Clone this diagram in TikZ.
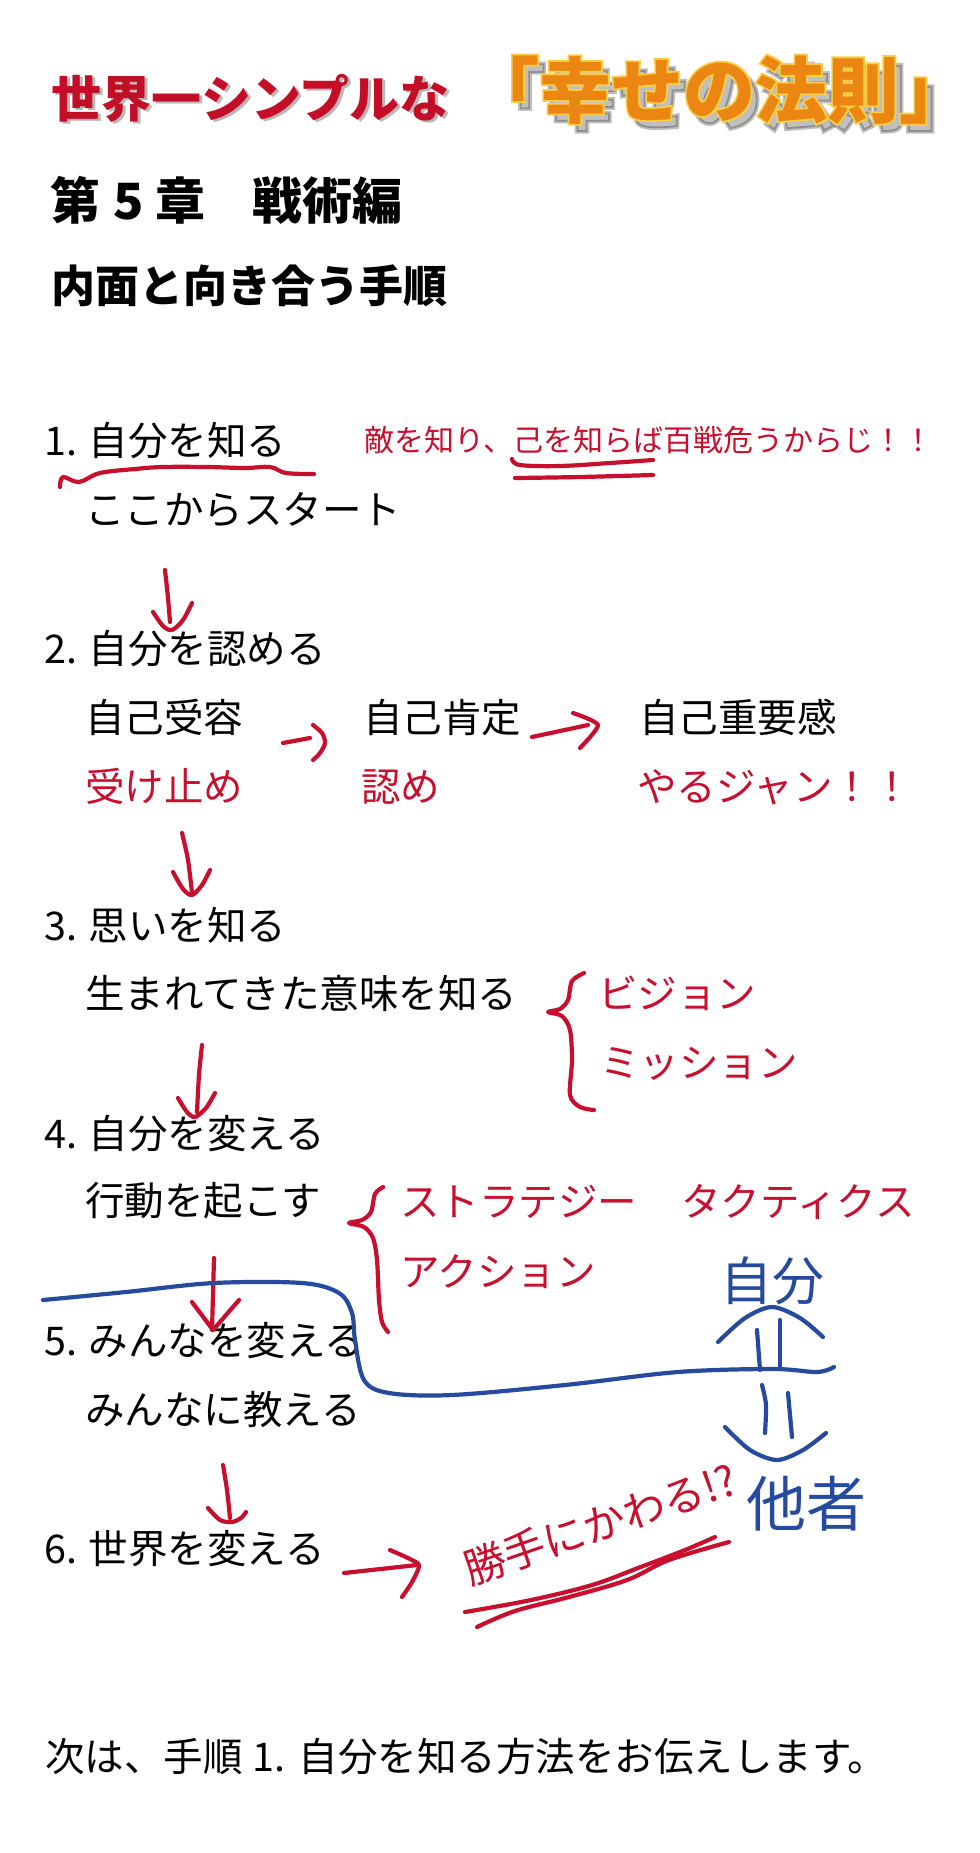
\documentclass[tikz,border=0pt]{standalone}
\usepackage{fontspec}
\setmainfont{Noto Sans CJK JP}
\newfontfamily\jp{Noto Sans CJK JP}
\newfontfamily\jpfat{Noto Sans CJK JP}[FakeBold=5, BoldFeatures={FakeBold=5}]
\definecolor{hred}{RGB}{200,16,46}
\definecolor{hblue}{RGB}{38,74,158}
\definecolor{tred}{RGB}{196,14,40}
\definecolor{torange}{RGB}{236,134,18}
\definecolor{toutline}{RGB}{250,205,70}
\tikzset{
  txt/.style={inner sep=0pt, anchor=base west, font=\jp\fontsize{39.5}{40}\selectfont},
  rtxt/.style={txt, text=hred},
  qtxt/.style={inner sep=0pt, anchor=base west, text=hred, font=\jp\fontsize{30}{30}\selectfont},
  pen/.style={line width=4.2pt, line cap=round, line join=round},
  rpen/.style={pen, draw=hred},
  bpen/.style={pen, draw=hblue},
  ttlred/.style={inner sep=0pt, anchor=base west, font=\jp\bfseries\fontsize{50}{50}\selectfont},
  ttlor/.style={inner sep=0pt, anchor=base west, font=\jp\bfseries\fontsize{72}{72}\selectfont},
  ttlfat/.style={inner sep=0pt, anchor=base west, font=\jpfat\bfseries\fontsize{72}{72}\selectfont},
  head/.style={inner sep=0pt, anchor=base west, font=\jp\bfseries\fontsize{50}{50}\selectfont},
  hand/.style={inner sep=0pt, font=\jp\fontsize{52}{52}\selectfont},
}
\begin{document}
\begin{tikzpicture}[x=1pt,y=-1pt]
\useasboundingbox (0,0) rectangle (980,1853);
\fill[white] (0,0) rectangle (980,1853);

% ---- title ----
\node[ttlred, text=black!55, opacity=0.5] (t1s) at (54,119) {世界一シンプルな};
\node[ttlred, text=tred] (t1) at (51,117) {世界一シンプルな};
\node[ttlfat, text=black, opacity=0.25] (t2s) at (474,125) {「幸せの法則」};
\node[ttlfat, text=toutline] (t2o) at (467,117) {「幸せの法則」};
\node[ttlor, text=torange] (t2) at (467,117) {「幸せの法則」};

\node[head] (h1) at (50,219) {第\hspace{13pt}5\hspace{12pt}章\hspace{47pt}戦術編};
\node[head, font=\jp\bfseries\fontsize{44}{44}\selectfont] (h2) at (51,302) {内面と向き合う手順};

% ---- steps ----
\node[txt] (s1) at (44,455) {1. 自分を知る};
\node[qtxt] (q) at (364,451) {敵を知り、己を知らば百戦危うからじ！！};
\node[txt] (s1a) at (85,524) {ここからスタート};

\node[txt] (s2) at (44,663) {2. 自分を認める};
\node[txt] (s2a) at (85,732) {自己受容};
\node[txt] (s2b) at (363,732) {自己肯定};
\node[txt] (s2c) at (639,732) {自己重要感};
\node[rtxt] (s2d) at (85,801) {受け止め};
\node[rtxt] (s2e) at (361,801) {認め};
\node[rtxt] (s2f) at (637,801) {やるジャン！！};

\node[txt] (s3) at (44,940) {3. 思いを知る};
\node[txt] (s3a) at (85,1008) {生まれてきた意味を知る};
\node[rtxt] (s3b) at (598,1008) {ビジョン};
\node[rtxt] (s3c) at (600,1077) {ミッション};

\node[txt] (s4) at (44,1148) {4. 自分を変える};
\node[txt] (s4a) at (85,1215) {行動を起こす};
\node[rtxt] (s4b) at (400,1216) {ストラテジー};
\node[rtxt] (s4c) at (681,1216) {タクティクス};
\node[rtxt] (s4d) at (400,1286) {アクション};

\node[txt] (s5) at (44,1355) {5. みんなを変える};
\node[txt] (s5a) at (85,1424) {みんなに教える};

\node[txt] (s6) at (44,1563) {6. 世界を変える};

\node[txt] (fin) at (45,1771)
  {次は、手順\hspace{10pt}1.\hspace{13pt}自分を知る方法をお伝えします。};

% ---- handwritten text ----
\node[hand, text=hblue] (jibun) at (772,1281) {自分};
\node[hand, text=hblue, font=\jp\fontsize{60}{60}\selectfont] (tasha) at (806,1504) {他者};
\node[hand, text=hred, rotate=19, font=\jp\fontsize{42}{42}\selectfont] (katte) at (600,1524) {勝手にかわる!?};

% ---- red annotations ----
\draw[rpen] plot[smooth, tension=0.6] coordinates {(60,487) (63,477) (79,482) (100,473) (135,469) (163,467) (207,467) (245,468) (270,467) (286,473) (314,474)};
\draw[rpen] plot[smooth, tension=0.6] coordinates {(512,459) (520,465) (560,466) (610,463) (653,460)};
\draw[rpen] plot[smooth, tension=0.6] coordinates {(515,478) (580,477) (653,475)};

% arrow 1 -> 2
\draw[rpen] plot[smooth] coordinates {(165,570) (168,598) (170,622)};
\draw[rpen] plot[smooth] coordinates {(153,612) (163,626) (172,630) (183,620) (192,603)};
% arrow receive -> affirm
\draw[rpen] (283,743) -- (310,738);
\draw[rpen] plot[smooth] coordinates {(313,725) (322,733) (325,743) (320,753) (313,760)};
% arrow affirm -> importance
\draw[rpen] (532,737) -- (588,725);
\draw[rpen] plot[smooth, tension=0.4] coordinates {(573,713) (598,725) (580,748)};
% arrow 2 -> 3
\draw[rpen] plot[smooth] coordinates {(182,833) (188,860) (192,893)};
\draw[rpen] plot[smooth] coordinates {(173,872) (183,889) (192,895) (202,885) (210,870)};
% brace 3
\draw[rpen] plot[smooth, tension=0.5] coordinates {(584,973) (572,981) (568,1000) (560,1009) (548,1012) (562,1016) (570,1030) (572,1060) (570,1095) (580,1107) (594,1110)};
% arrow 3 -> 4
\draw[rpen] plot[smooth] coordinates {(202,1045) (199,1075) (197,1112)};
\draw[rpen] plot[smooth] coordinates {(178,1098) (187,1112) (195,1117) (206,1108) (215,1093)};
% brace 4
\draw[rpen] plot[smooth, tension=0.5] coordinates {(383,1187) (375,1194) (371,1212) (362,1220) (349,1223) (364,1227) (373,1238) (377,1260) (379,1300) (382,1322) (388,1332)};
% arrow 4 -> 5
\draw[rpen] (214,1258) -- (212,1330);
\draw[rpen] (192,1302) -- (213,1330) -- (239,1300);
% arrow 5 -> 6
\draw[rpen] plot[smooth] coordinates {(223,1465) (227,1490) (230,1518)};
\draw[rpen] plot[smooth] coordinates {(208,1508) (220,1520) (232,1522) (241,1518) (246,1512)};
% arrow 6 -> katte
\draw[rpen] (344,1573) -- (417,1565);
\draw[rpen] plot[smooth, tension=0.5] coordinates {(390,1550) (412,1560) (419,1566) (412,1582) (402,1597)};
% double underline of katte
\draw[rpen] plot[smooth, tension=0.6] coordinates {(465,1612) (531,1600) (592,1585) (638,1568) (685,1550) (715,1537)};
\draw[rpen] plot[smooth, tension=0.6] coordinates {(477,1627) (515,1611) (569,1597) (627,1580) (669,1560) (729,1542)};

% ---- blue annotations ----
\draw[bpen] plot[smooth, tension=0.55] coordinates {(43,1300) (126,1292) (214,1283) (302,1283) (339,1293) (352,1313) (355,1340) (364,1380) (389,1393) (452,1395) (565,1385) (678,1372) (773,1369) (817,1372) (834,1367)};
\draw[bpen] plot[smooth] coordinates {(718,1342) (745,1318) (772,1307) (800,1318) (823,1337)};
\draw[bpen] (757,1330) -- (760,1370);
\draw[bpen] (780,1320) -- (780,1368);
\draw[bpen] plot[smooth] coordinates {(762,1385) (766,1405) (765,1433)};
\draw[bpen] (788,1393) -- (792,1437);
\draw[bpen] plot[smooth] coordinates {(725,1427) (750,1450) (777,1460) (803,1450) (826,1433)};
\end{tikzpicture}
\end{document}
